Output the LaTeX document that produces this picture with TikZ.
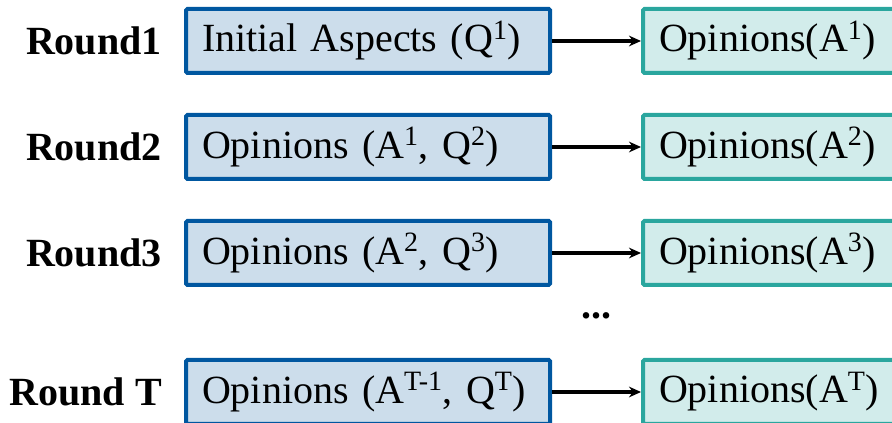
\documentclass[tikz,border=0pt]{standalone}
\usepackage{fontspec}
\setmainfont{Liberation Serif}
\usetikzlibrary{arrows.meta, positioning, calc}
\definecolor{aspfill}{HTML}{CCDDEB}
\definecolor{aspline}{HTML}{0057A0}
\definecolor{opfill}{HTML}{D2ECEB}
\definecolor{opline}{HTML}{2AA69E}
\tikzset{
  inblk/.style  = {rectangle, rounded corners=1pt, draw=aspline, fill=aspfill,
                   line width=3pt, text width=249pt, align=left, inner xsep=12pt,
                   minimum height=48pt, font=\fontsize{30}{36}\selectfont},
  outblk/.style = {rectangle, rounded corners=1pt, draw=opline, fill=opfill,
                   line width=3pt, text width=249pt, align=left, inner xsep=12pt,
                   minimum height=48pt, font=\fontsize{30}{36}\selectfont},
  rnd/.style    = {font=\fontsize{30}{36}\selectfont\bfseries, inner sep=0pt},
  flow/.style   = {-{Stealth[length=9pt, width=8pt]}, line width=3pt},
}

\begin{document}
\begin{tikzpicture}[x=0.75pt, y=-0.75pt]
        \useasboundingbox (0,0) rectangle (892,423);
        % inputs of each round
        \node[inblk] (q1) at (368,41) {Initial Aspects (Q\textsuperscript{1})};
        \node[inblk, below=28.5pt of q1]  (q2) {Opinions (A\textsuperscript{1}, Q\textsuperscript{2})};
        \node[inblk, below=28.5pt of q2]  (q3) {Opinions (A\textsuperscript{2}, Q\textsuperscript{3})};
        \node[inblk, below=53.25pt of q3] (qT) {Opinions (A\textsuperscript{T-1}, Q\textsuperscript{T})};
        % outputs
        \node[outblk, right=66.75pt of q1] (a1) {Opinions(A\textsuperscript{1})};
        \node[outblk, right=66.75pt of q2] (a2) {Opinions(A\textsuperscript{2})};
        \node[outblk, right=66.75pt of q3] (a3) {Opinions(A\textsuperscript{3})};
        \node[outblk, right=66.75pt of qT] (aT) {Opinions(A\textsuperscript{T})};
        % round labels
        \node[rnd, left=16.5pt of q1] (n1) {Round1};
        \node[rnd, left=16.5pt of q2] (n2) {Round2};
        \node[rnd, left=16.5pt of q3] (n3) {Round3};
        \node[rnd, left=16.5pt of qT] (nT) {Round T};
        \node[rnd] (dots) at ($(q3.east)!.5!(a3.west) + (0,63)$) {...};
        \foreach \a/\b in {q1/a1, q2/a2, q3/a3, qT/aT}{\draw[flow] (\a) -- (\b);}
    \end{tikzpicture}
\end{document}
